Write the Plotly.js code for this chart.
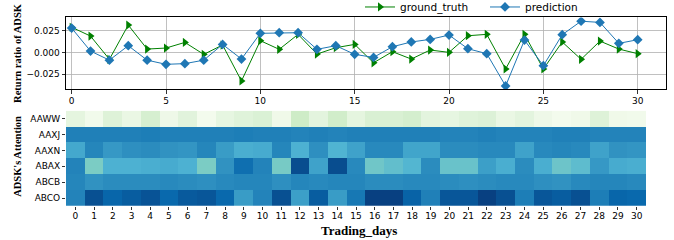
<!DOCTYPE html>
<html>
<head>
<meta charset="utf-8">
<script src="https://cdn.plot.ly/plotly-3.0.1.min.js"></script>
<style>html,body{margin:0;padding:0;background:#fff;}#chart{width:674px;height:240px;}</style>
</head>
<body>
<div id="chart"></div>
<script>
const days = [0,1,2,3,4,5,6,7,8,9,10,11,12,13,14,15,16,17,18,19,20,21,22,23,24,25,26,27,28,29,30];
const groundTruth = [0.029,0.0188,-0.008,0.0315,0.0038,0.005,0.0115,-0.0023,0.0085,-0.033,0.0135,0.0035,0.0208,-0.002,0.0054,0.0092,-0.012,0.0008,-0.0077,0.0027,0.0,0.0192,0.0208,-0.0192,0.0208,-0.0192,0.012,-0.008,0.013,0.0038,-0.0015];
const prediction = [0.028,0.0015,-0.009,0.0077,-0.009,-0.0138,-0.013,-0.009,0.0092,-0.0077,0.022,0.0227,0.0227,0.0035,0.0077,-0.0023,-0.0058,0.0065,0.012,0.015,0.02,0.0042,-0.0015,-0.0388,0.0142,-0.0154,0.0204,0.036,0.0346,0.0104,0.0146];
const stocks = ["AAWW","AAXJ","AAXN","ABAX","ABCB","ABCO"];
const attAAWW = [0.10,0.03,0.14,0.07,0.19,0.05,0.12,0.02,0.09,0.13,0.16,0.04,0.24,0.11,0.22,0.10,0.17,0.17,0.20,0.11,0.09,0.13,0.15,0.07,0.11,0.05,0.02,0.04,0.14,0.04,0.03];
const attAAXJ = [0.79,0.79,0.79,0.79,0.80,0.79,0.79,0.79,0.79,0.80,0.79,0.79,0.78,0.79,0.78,0.79,0.79,0.79,0.79,0.79,0.78,0.78,0.79,0.78,0.78,0.78,0.79,0.79,0.78,0.78,0.78];
const attAAXN = [0.66,0.77,0.71,0.74,0.75,0.73,0.72,0.77,0.70,0.64,0.65,0.77,0.63,0.74,0.62,0.68,0.76,0.76,0.67,0.67,0.75,0.75,0.76,0.76,0.68,0.76,0.77,0.76,0.68,0.73,0.72];
const attABAX = [0.78,0.50,0.63,0.63,0.64,0.65,0.63,0.50,0.73,0.85,0.78,0.51,0.96,0.68,0.96,0.76,0.53,0.57,0.61,0.75,0.55,0.55,0.69,0.64,0.75,0.64,0.54,0.58,0.71,0.65,0.64];
const attABCB = [0.77,0.73,0.75,0.75,0.75,0.76,0.75,0.74,0.76,0.77,0.77,0.74,0.77,0.76,0.77,0.77,0.75,0.75,0.76,0.76,0.75,0.74,0.75,0.76,0.76,0.74,0.73,0.76,0.77,0.77,0.76];
const attABCO = [0.78,0.95,0.88,0.91,0.94,0.87,0.92,0.93,0.87,0.70,0.78,0.95,0.69,0.91,0.70,0.82,1.00,1.00,0.89,0.79,0.93,0.93,1.00,0.95,0.80,0.93,0.91,0.95,0.80,0.88,0.87];
const topTicks = [0,5,10,15,20,25,30];
const yTicks = [-0.025,0,0.025];
const yTickText = ["\u22120.025","0.000","0.025"];

const gnbu = [[0,'#f7fcf0'],[0.125,'#e0f3db'],[0.25,'#ccebc5'],[0.375,'#a8ddb5'],[0.5,'#7bccc4'],[0.625,'#4eb3d3'],[0.75,'#2b8cbe'],[0.875,'#0868ac'],[1,'#084081']];

const tickFont = {family:'DejaVu Sans', size:9, color:'#000'};
const data = [
  {x:days, y:groundTruth, type:'scatter', mode:'lines+markers', name:'ground_truth',
   line:{color:'#008000', width:1}, marker:{symbol:'triangle-right', size:8, color:'#008000'},
   xaxis:'x', yaxis:'y'},
  {x:days, y:prediction, type:'scatter', mode:'lines+markers', name:'prediction',
   line:{color:'#1f77b4', width:1}, marker:{symbol:'diamond', size:7.5, color:'#1f77b4'},
   xaxis:'x', yaxis:'y'},
  {z:[attAAWW,attAAXJ,attAAXN,attABAX,attABCB,attABCO], x:days, y:stocks, type:'heatmap',
   colorscale:gnbu, zmin:0, zmax:1, showscale:false, xaxis:'x2', yaxis:'y2', xgap:0, ygap:0}
];
const layout = {
  width:674, height:240,
  margin:{l:66, r:8, t:17, b:34, autoexpand:false},
  paper_bgcolor:'#fff', plot_bgcolor:'#fff',
  font:{family:'DejaVu Sans', size:9, color:'#000'},
  showlegend:true,
  legend:{orientation:'h', x:0.49, y:1.053, xanchor:'left', yanchor:'middle',
    font:{family:'DejaVu Sans', size:10.5, color:'#000'}, bgcolor:'rgba(0,0,0,0)',
    itemwidth:30, tracegroupgap:0, entrywidth:80, entrywidthmode:'pixels'},
  xaxis:{domain:[0,1], range:[-0.3,31.5], tickvals:topTicks, ticks:'outside', ticklen:3.5, tickwidth:0.8,
    tickcolor:'#000', showgrid:true, gridcolor:'#b0b0b0', gridwidth:0.8, zeroline:false,
    showline:true, linecolor:'#000', linewidth:1, mirror:true, tickfont:tickFont, anchor:'y', automargin:false},
  yaxis:{domain:[0.619,0.998], range:[-0.0423,0.0404], tickvals:yTicks, ticktext:yTickText,
    ticks:'outside', ticklen:3.5, tickwidth:0.8, tickcolor:'#000', showgrid:true, gridcolor:'#b0b0b0',
    gridwidth:0.8, zeroline:false, showline:true, linecolor:'#000', linewidth:1, mirror:true,
    tickfont:tickFont, anchor:'x', automargin:false},
  xaxis2:{domain:[0,0.9667], range:[-0.5,30.5], tickvals:days, ticks:'outside', ticklen:3, tickwidth:0.8,
    tickcolor:'#000', showgrid:false, zeroline:false, showline:false, tickfont:tickFont, anchor:'y2',
    automargin:false, ticklabelstandoff:-2},
  yaxis2:{domain:[0,0.504], autorange:'reversed', type:'category', ticks:'outside', ticklen:3, tickwidth:0.8,
    tickcolor:'#000', showgrid:false, zeroline:false, showline:false, tickfont:tickFont, anchor:'x2', automargin:false},
  annotations:[
    {text:'<b>Return ratio of ADSK</b>', xref:'paper', yref:'paper', x:-0.08, y:0.81, textangle:-90,
     showarrow:false, xanchor:'center', yanchor:'middle', font:{family:'Liberation Serif', size:10.5, color:'#000'}},
    {text:"<b>ADSK's Attention</b>", xref:'paper', yref:'paper', x:-0.08, y:0.26, textangle:-90,
     showarrow:false, xanchor:'center', yanchor:'middle', font:{family:'Liberation Serif', size:10.5, color:'#000'}},
    {text:'<b>Trading_days</b>', xref:'paper', yref:'paper', x:0.488, y:-0.127, showarrow:false,
     xanchor:'center', yanchor:'middle', font:{family:'Liberation Serif', size:13, color:'#000'}}
  ]
};
Plotly.newPlot('chart', data, layout, {staticPlot:true, displayModeBar:false});
</script>
</body>
</html>
